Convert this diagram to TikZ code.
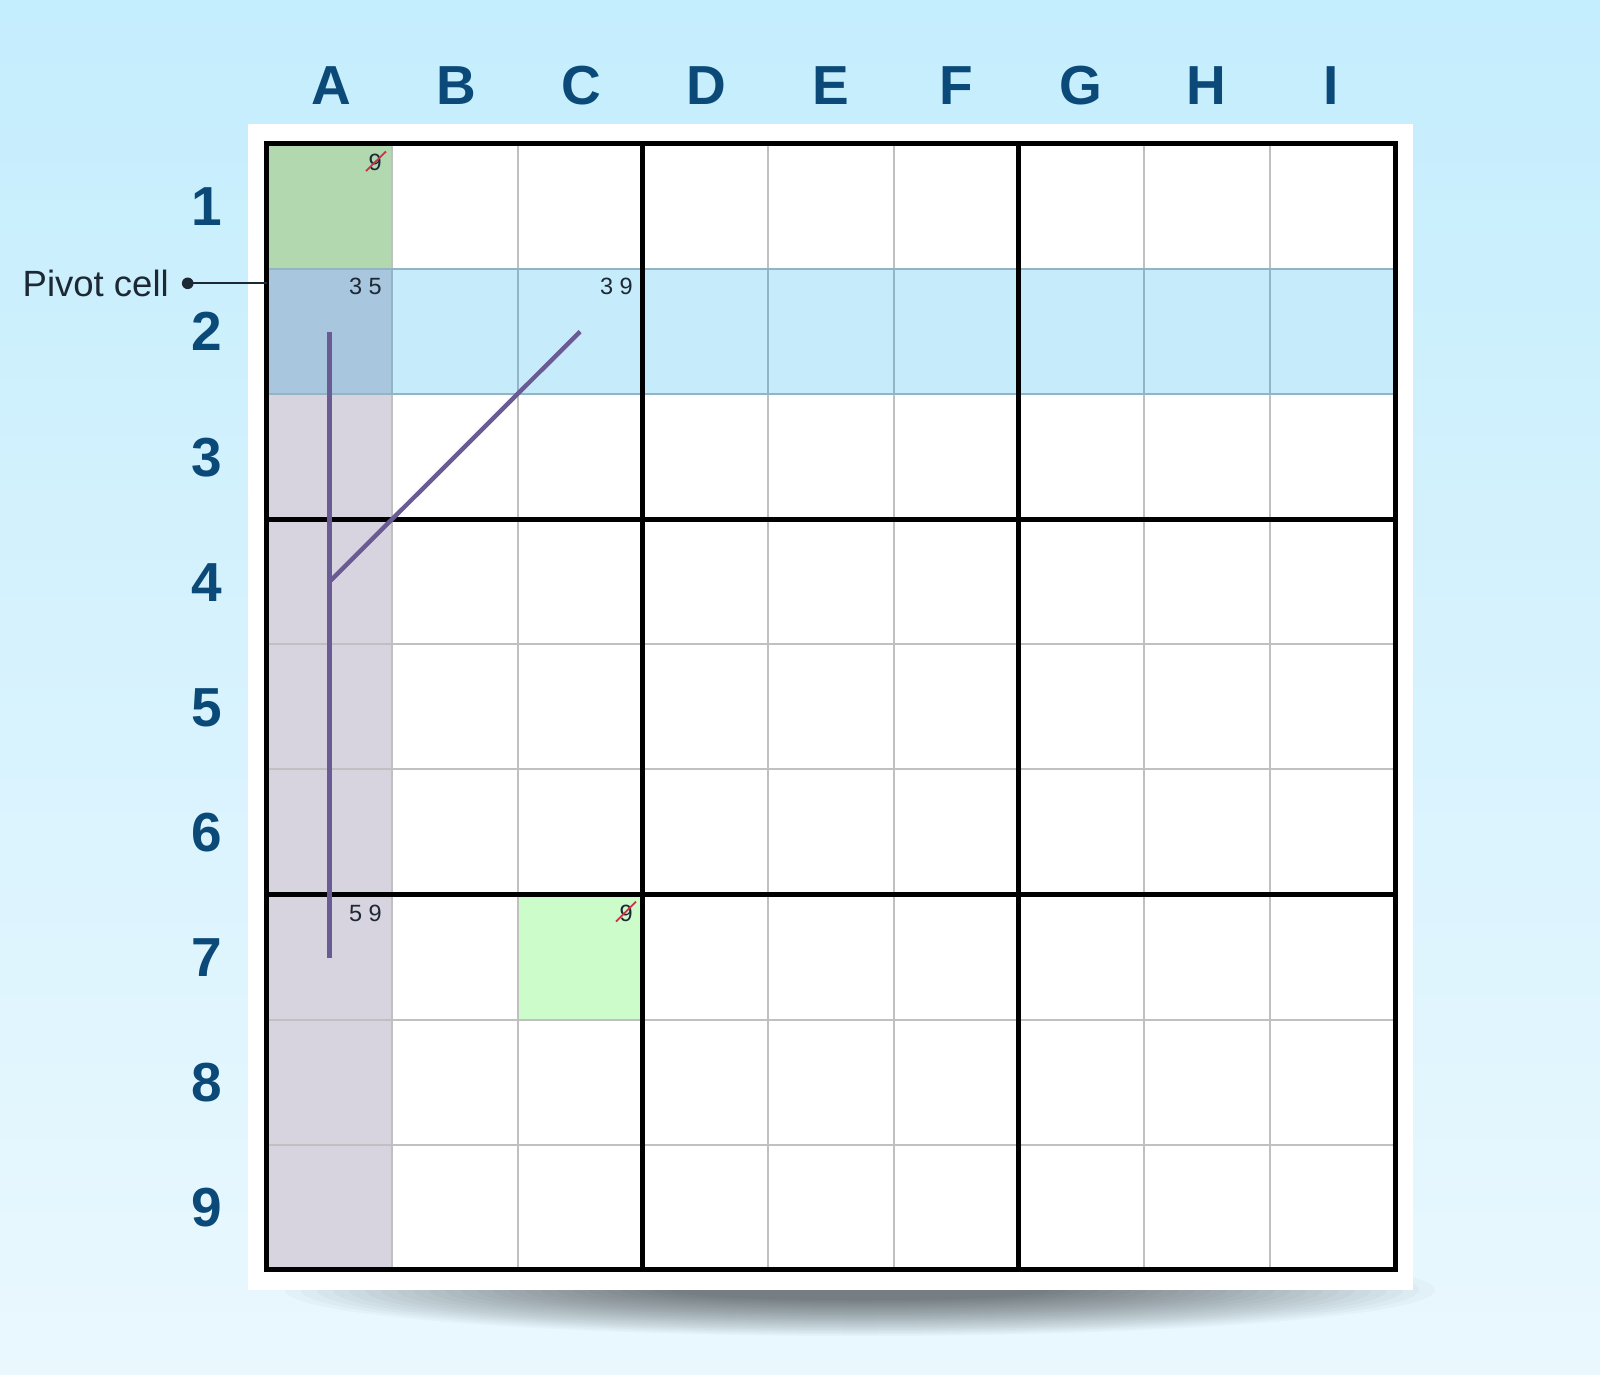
\documentclass[tikz,border=0pt]{standalone}
\usepackage{fontspec}
\setmainfont{Liberation Sans}
\definecolor{bgtop}{HTML}{C4EDFD}
\definecolor{bgbot}{HTML}{EAF8FE}
\definecolor{lbl}{HTML}{0B4A78}
\definecolor{gA1}{HTML}{B2D8B0}
\definecolor{bA2}{HTML}{A9C6DF}
\definecolor{rowb}{HTML}{C6ECFB}
\definecolor{colA}{HTML}{D8D4DF}
\definecolor{gC7}{HTML}{CCFCCA}
\definecolor{chain}{HTML}{6B5B95}
\definecolor{strike}{HTML}{D03048}
\definecolor{note}{HTML}{1C2833}
\definecolor{gridgray}{HTML}{C0C0C0}
\definecolor{gridblue}{HTML}{92B5C6}
\begin{document}
\begin{tikzpicture}[x=1pt,y=-1pt,
  collbl/.style={anchor=base, text=lbl, font=\fontsize{55}{60}\selectfont\bfseries, inner sep=0},
  rowlbl/.style={anchor=base, text=lbl, font=\fontsize{55}{60}\selectfont\bfseries, inner sep=0},
  notetxt/.style={anchor=base east, text=note, font=\fontsize{23.5}{26}\selectfont, inner sep=0},
  thinline/.style={gridgray, line width=2pt},
  thinblue/.style={gridblue, line width=2pt},
  thickline/.style={black, line width=5pt},
  chainline/.style={chain, line width=4.4pt},
  strikeline/.style={strike, line width=1.8pt}]
\useasboundingbox (0,0) rectangle (1600,1374);
% background
\begin{scope}[y=1pt]
  \shade[top color=bgtop, bottom color=bgbot] (0,-1374) rectangle (1600,0);
\end{scope}
% shadow under the board
\foreach \k in {0,...,24}{
  \pgfmathsetmacro\rx{575-\k*16}
  \pgfmathsetmacro\ry{46-\k*1.5}
  \fill[black, opacity=0.022] (860,1290) ellipse [x radius=\rx, y radius=\ry];
}
% board
\fill[white] (248.3,124) rectangle (1413.3,1290);
% cell fills
\fill[rowb] (392,269) rectangle (1395,394.2);
\fill[gA1] (266.8,143.8) rectangle (392,269);
\fill[bA2] (266.8,269) rectangle (392,394.2);
\fill[colA] (266.8,394.2) rectangle (392,1269.7);
\fill[gC7] (517.2,895) rectangle (642.4,1020.2);
% thin lines
\foreach \i in {1,2,4,5,7,8}{
  \pgfmathsetmacro\p{266.8+\i*125.35}
  \draw[thinline] (\p,143.8) -- (\p,1269.7);
  \draw[thinblue] (\p,269) -- (\p,394.2);
  \pgfmathsetmacro\q{143.8+\i*125.1}
  \draw[thinline] (266.8,\q) -- (1395,\q);
}
\draw[thinblue] (266.8,268.9) -- (1395,268.9);
\draw[thinblue] (266.8,394) -- (1395,394);
% thick lines
\foreach \i in {3,6}{
  \pgfmathsetmacro\p{266.8+\i*125.35}
  \draw[thickline] (\p,143.8) -- (\p,1269.7);
  \pgfmathsetmacro\q{143.8+\i*125.1}
  \draw[thickline] (266.8,\q) -- (1395,\q);
}
\draw[thickline] (266.8,143.8) rectangle (1395,1269.7);
% column labels
\foreach \c/\x in {A/331,B/456,C/581,D/706,E/831,F/956,G/1081,H/1206,I/1331}{
  \node[collbl] (col\c) at (\x,104) {\c};
}
% row labels
\foreach \r in {1,...,9}{
  \pgfmathsetmacro\y{143.8+(\r-0.5)*125.1+19.5}
  \node[rowlbl] (row\r) at (207,\y) {\r};
}
% notes
\node[notetxt] (noteA2) at (382,294) {3 5};
\node[notetxt] (noteC2) at (633,294) {3 9};
\node[notetxt] (noteA7) at (382,921) {5 9};
\node[notetxt] (noteA1) at (382,170.5) {9};
\node[notetxt] (noteC7) at (633,921) {9};
\draw[strikeline] ([shift={(-16,0.5)}]noteA1.base east) -- ([shift={(4,-19)}]noteA1.base east);
\draw[strikeline] ([shift={(-17,0.5)}]noteC7.base east) -- ([shift={(3,-19.5)}]noteC7.base east);
% chain
\coordinate (cA2) at (329.4,331.6);
\coordinate (cA7) at (329.4,957.5);
\coordinate (cC2) at (580.1,331.6);
\coordinate (cA4) at (329.4,581.8);
\draw[chainline] (cA2) -- (cA7);
\draw[chainline] (cC2) -- (cA4);
% pivot label
\node[anchor=base east, inner sep=0, text=note, font=\fontsize{36.5}{40}\selectfont] (pivot) at (169,296) {Pivot cell};
\coordinate (pdot) at (187.7,283.3);
\coordinate (pgrid) at (266.8,283.3);
\draw[note, line width=1.8pt] (pdot) -- (pgrid);
\fill[note] (pdot) circle [radius=5.8];
\end{tikzpicture}
\end{document}
